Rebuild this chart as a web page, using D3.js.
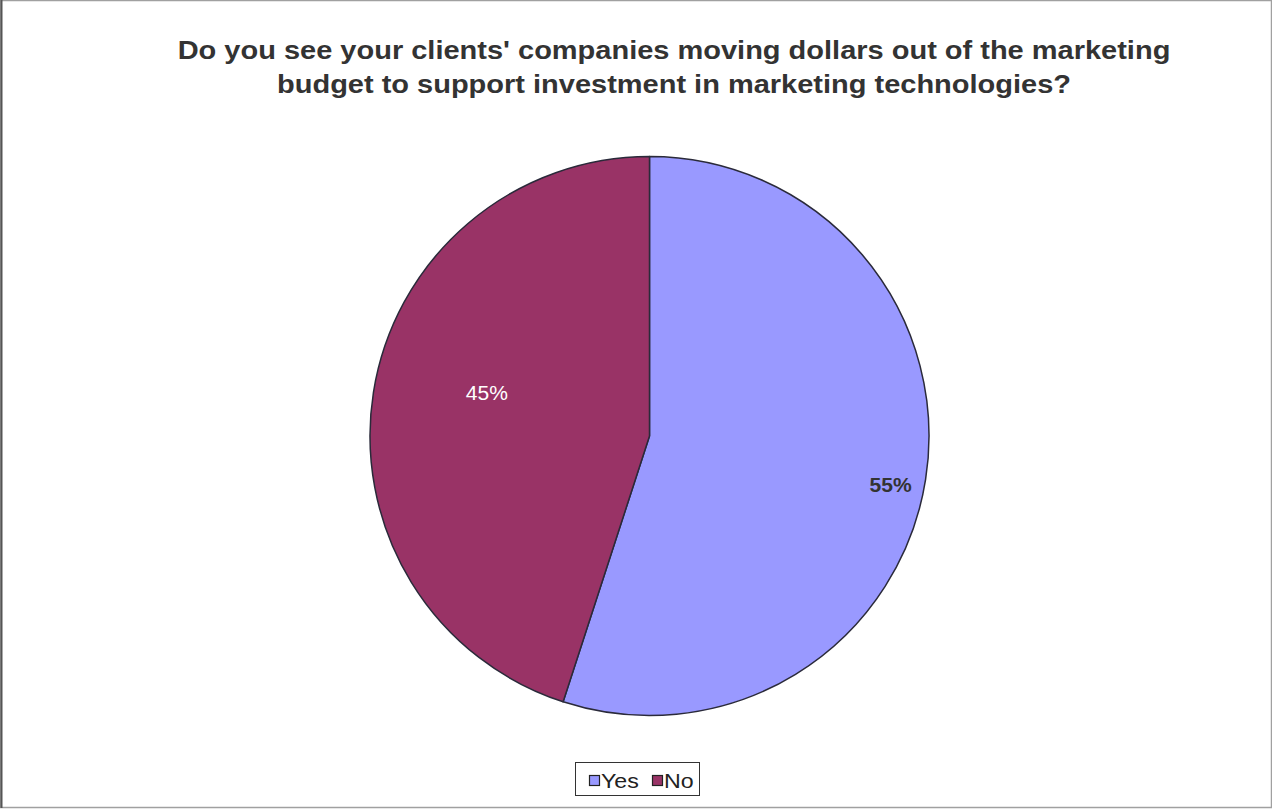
<!DOCTYPE html>
<html>
<head>
<meta charset="utf-8">
<script src="https://cdn.jsdelivr.net/npm/d3@7"></script>
<style>
  html, body { margin: 0; padding: 0; background: #fff; }
  svg { display: block; font-family: "Liberation Sans", Arial, sans-serif; }
</style>
</head>
<body>
<svg id="chart" width="1272" height="810"></svg>
<script>
// Survey answers and their shares (percent)
const categories = ["Yes", "No"];
const values = [55, 45];
const colors = ["#9999FF", "#993366"];
const titleLines = [
  "Do you see your clients' companies moving dollars out of the marketing",
  "budget to support investment in marketing technologies?"
];

const W = 1272, H = 810;
const stretch = 1.16; // wide glyph rendering used for all chart text
const svg = d3.select("#chart");

// Frame around the chart area
svg.append("rect")
  .attr("x", 0.5).attr("y", 0.5)
  .attr("width", W - 1).attr("height", H - 3)
  .attr("fill", "#fff")
  .attr("stroke", "#a0a0a0").attr("stroke-width", 1.5);
svg.append("line")
  .attr("x1", 1.5).attr("x2", 1.5).attr("y1", 0).attr("y2", H - 2)
  .attr("stroke", "#555").attr("stroke-width", 2);

// Title
svg.append("g")
  .attr("transform", `translate(674,0) scale(${stretch},1)`)
  .selectAll("text").data(titleLines).join("text")
  .attr("x", 0).attr("y", (d, i) => 59 + i * 34)
  .attr("text-anchor", "middle")
  .attr("font-size", 25).attr("font-weight", "bold").attr("fill", "#333")
  .text(d => d);

// Pie
const cx = 649.5, cy = 436, r = 279.5;
const pie = d3.pie().sort(null).value(d => d.value);
const arcs = pie(categories.map((c, i) => ({ cat: c, value: values[i], color: colors[i] })));
const arc = d3.arc().innerRadius(0).outerRadius(r);

const g = svg.append("g").attr("transform", `translate(${cx},${cy})`);
g.selectAll("path.slice").data(arcs).join("path")
  .attr("class", "slice")
  .attr("d", arc)
  .attr("fill", d => d.data.color)
  .attr("stroke", "#2a2a3a").attr("stroke-width", 1.5)
  .attr("stroke-linejoin", "round");

// Percentage labels
const labelStyle = [
  { fill: "#333", weight: "bold", radius: 0.87, nx: 1, ny: 11 },
  { fill: "#fff", weight: "normal", radius: 0.60, nx: 3, ny: -17 }
];
g.selectAll("text.pct").data(arcs).join("text")
  .attr("class", "pct")
  .attr("transform", (d, i) => {
    const s = labelStyle[i];
    const a = (d.startAngle + d.endAngle) / 2;
    const rr = r * s.radius;
    return `translate(${Math.sin(a) * rr + s.nx},${-Math.cos(a) * rr + s.ny}) scale(1.08,1)`;
  })
  .attr("text-anchor", "middle")
  .attr("dy", "0.36em")
  .attr("font-size", 19.5)
  .attr("font-weight", (d, i) => labelStyle[i].weight)
  .attr("fill", (d, i) => labelStyle[i].fill)
  .text(d => d.data.value + "%");

// Legend
const legend = svg.append("g");
legend.append("rect")
  .attr("x", 575.5).attr("y", 762.5).attr("width", 124).attr("height", 33)
  .attr("fill", "#fff").attr("stroke", "#333").attr("stroke-width", 1);
const items = [
  { x: 589, cat: categories[0], color: colors[0] },
  { x: 652, cat: categories[1], color: colors[1] }
];
const li = legend.selectAll("g.item").data(items).join("g").attr("class", "item");
li.append("rect")
  .attr("x", d => d.x + 0.5).attr("y", 775.5)
  .attr("width", 10).attr("height", 10)
  .attr("fill", d => d.color).attr("stroke", "#222").attr("stroke-width", 1.2);
li.append("text")
  .attr("transform", d => `translate(${d.x + 12},788) scale(${stretch},1)`)
  .attr("font-size", 20).attr("fill", "#222")
  .text(d => d.cat);
</script>
</body>
</html>
